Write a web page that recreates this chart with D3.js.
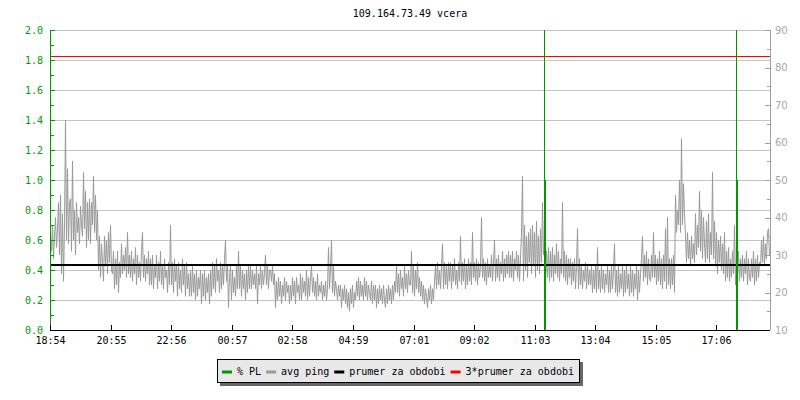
<!DOCTYPE html>
<html lang="en">
<head>
  <meta charset="utf-8">
  <script src="https://d3js.org/d3.v7.min.js"></script>
  <style>
    body { margin: 0; background: #fff; }
    text { font-family: "DejaVu Sans Mono", "Liberation Mono", monospace; font-size: 10px; }
  </style>
</head>
<body>
  <div id="chart"></div>
  <script>
    // ---- data ----
    var title = "109.164.73.49 vcera";
    var startTime = "18:54";
    var stepMinutes = 2;
    var tickLabels = ["18:54", "20:55", "22:56", "00:57", "02:58", "04:59",
                      "07:01", "09:02", "11:03", "13:04", "15:05", "17:06"];

    // avg ping (ms), one value every 2 minutes
    var ping = [
      36, 31, 38, 29, 35, 40, 32, 37, 44, 30, 46, 25, 41, 23, 38, 66, 34, 53, 33, 44,
      45, 31, 55, 34, 42, 30, 44, 36, 40, 33, 43, 38, 35, 52, 37, 47, 32, 44, 34, 45,
      33, 44, 38, 51, 36, 46, 34, 42, 26, 35, 24, 33, 28, 23, 35, 27, 34, 25, 36, 28,
      38, 26, 25, 31, 21, 29, 22, 31, 20, 28, 24, 33, 25, 30, 26, 32, 24, 36, 25, 30,
      24, 31, 23, 29, 25, 32, 22, 30, 24, 28, 23, 31, 36, 24, 30, 23, 29, 25, 31, 22,
      29, 22, 30, 21, 27, 24, 30, 21, 28, 23, 31, 22, 27, 21, 29, 24, 26, 20, 28, 22,
      38, 22, 28, 20, 29, 23, 27, 19, 28, 21, 26, 20, 29, 22, 27, 19, 28, 21, 25, 19,
      26, 19, 27, 20, 25, 18, 26, 19, 24, 21, 26, 17, 25, 19, 26, 18, 24, 20, 25, 17,
      26, 19, 28, 21, 27, 20, 29, 23, 26, 20, 28, 21, 27, 22, 29, 34, 23, 27, 16, 24,
      27, 18, 26, 20, 24, 19, 27, 21, 31, 21, 27, 19, 26, 21, 25, 18, 26, 20, 27, 21,
      27, 21, 26, 22, 25, 21, 27, 17, 25, 22, 27, 21, 26, 22, 25, 30, 22, 27, 21, 26,
      26, 23, 27, 22, 25, 16, 23, 18, 24, 19, 23, 17, 22, 19, 24, 18, 23, 20, 22, 17,
      22, 18, 24, 19, 23, 17, 24, 20, 22, 18, 25, 18, 24, 20, 23, 19, 26, 18, 24, 19,
      24, 27, 20, 24, 19, 23, 18, 25, 19, 22, 20, 23, 18, 22, 19, 23, 18, 21, 32, 21,
      26, 34, 20, 27, 19, 23, 21, 18, 22, 19, 22, 16, 21, 18, 22, 17, 21, 16, 20, 15,
      21, 17, 22, 16, 20, 18, 23, 19, 24, 18, 23, 19, 22, 18, 24, 19, 23, 18, 22, 20,
      18, 23, 17, 22, 18, 22, 16, 21, 17, 22, 18, 21, 17, 22, 18, 16, 21, 17, 22, 18,
      21, 17, 22, 18, 23, 20, 27, 20, 25, 19, 26, 21, 24, 19, 27, 21, 25, 20, 26, 22,
      22, 31, 20, 27, 19, 26, 21, 28, 20, 24, 19, 23, 18, 22, 17, 21, 19, 16, 21, 18,
      22, 17, 21, 18, 23, 27, 21, 28, 22, 26, 21, 27, 33, 21, 28, 22, 27, 21, 28, 23,
      28, 21, 27, 23, 29, 22, 26, 21, 28, 23, 35, 22, 28, 23, 29, 21, 27, 22, 29, 23,
      28, 22, 36, 24, 28, 23, 29, 22, 28, 24, 27, 40, 24, 29, 23, 28, 22, 29, 24, 27,
      24, 30, 23, 28, 34, 23, 29, 24, 30, 23, 28, 25, 31, 23, 29, 24, 30, 25, 31, 24,
      30, 24, 31, 23, 29, 26, 31, 24, 30, 23, 29, 36, 51, 23, 38, 26, 35, 24, 36, 28,
      37, 25, 38, 27, 36, 24, 39, 26, 35, 25, 37, 28, 44, 30, 33, 23, 31, 24, 32, 23,
      31, 24, 32, 23, 30, 25, 33, 24, 31, 23, 29, 25, 44, 24, 31, 23, 30, 22, 29, 24,
      29, 22, 28, 23, 29, 21, 27, 37, 21, 29, 22, 27, 21, 26, 23, 28, 21, 27, 22, 26,
      22, 27, 20, 26, 21, 27, 20, 32, 21, 26, 20, 27, 21, 26, 20, 25, 22, 27, 20, 26,
      20, 27, 21, 26, 33, 20, 26, 19, 27, 20, 25, 21, 27, 19, 26, 20, 27, 21, 25, 19,
      27, 20, 26, 19, 25, 21, 27, 18, 26, 20, 25, 29, 35, 23, 30, 24, 31, 22, 29, 24,
      23, 30, 24, 36, 24, 30, 22, 29, 23, 31, 22, 29, 21, 30, 23, 37, 21, 40, 22, 29,
      21, 29, 22, 30, 20, 46, 36, 42, 38, 50, 36, 61, 38, 49, 41, 35, 28, 36, 29, 34,
      27, 35, 29, 33, 28, 41, 30, 38, 32, 47, 31, 42, 29, 40, 33, 28, 39, 29, 41, 28,
      36, 30, 52, 29, 39, 27, 36, 25, 34, 28, 35, 26, 33, 25, 36, 23, 31, 24, 32, 23,
      29, 24, 31, 25, 38, 22, 30, 24, 31, 23, 29, 24, 30, 23, 29, 25, 31, 22, 29, 24,
      23, 29, 24, 31, 22, 29, 23, 30, 24, 28, 27, 34, 28, 35, 27, 33, 29, 36, 37, 30
    ];

    // packet loss (%), only the samples where it was not zero
    var plSample = [494, 686];
    var plValue = [1.0, 1.0];
    var plPeak = [100, 100];

    var prumer = 27.65;   // prumer za obdobi (ms)

    var legendLabels = ["% PL", "avg ping", "prumer za obdobi", "3*prumer za obdobi"];
    var legendColors = ["#009a00", "#999999", "#000000", "#ff0000"];

    // ---- layout ----
    var width = 800, height = 400;
    var plotLeft = 50, plotRight = 770, plotTop = 30, plotBottom = 330;

    var svg = d3.select('#chart')
      .append('svg')
      .attr('width', width)
      .attr('height', height);

    function minutesFromStart(label) {
      var p = label.split(':'), s = startTime.split(':');
      var m = (+p[0] * 60 + +p[1]) - (+s[0] * 60 + +s[1]);
      return m < 0 ? m + 1440 : m;
    }

    var x = d3.scaleLinear().domain([0, 1440]).range([plotLeft, plotRight]);
    var yL = d3.scaleLinear().domain([0, 2]).range([plotBottom, plotTop]);
    var yR = d3.scaleLinear().domain([10, 90]).range([plotBottom, plotTop]);

    svg.append('defs').append('clipPath').attr('id', 'plotclip')
      .append('rect')
      .attr('x', plotLeft).attr('y', plotTop)
      .attr('width', plotRight - plotLeft).attr('height', plotBottom - plotTop);

    // grid
    svg.append('g')
      .selectAll('line')
      .data(yL.ticks(10))
      .enter()
      .append('line')
      .attr('x1', plotLeft).attr('x2', plotRight)
      .attr('y1', function (d) { return Math.round(yL(d)) + 0.5; })
      .attr('y2', function (d) { return Math.round(yL(d)) + 0.5; })
      .attr('stroke', '#c4c4c4');

    var plot = svg.append('g').attr('clip-path', 'url(#plotclip)');

    // avg ping
    var line = d3.line()
      .x(function (d, i) { return x(i * stepMinutes) + 0.5; })
      .y(function (d) { return yR(d); });

    plot.append('path')
      .datum(ping)
      .attr('d', line)
      .attr('fill', 'none')
      .attr('stroke', '#999999')
      .attr('stroke-width', 1);

    // prumer and 3*prumer
    var yAvg = Math.round(yR(prumer)) + 1;
    plot.append('line')
      .attr('x1', plotLeft).attr('x2', plotRight)
      .attr('y1', yAvg).attr('y2', yAvg)
      .attr('stroke', '#000').attr('stroke-width', 2);

    var y3 = Math.floor(yR(3 * prumer)) + 0.5;
    svg.append('line')
      .attr('x1', plotLeft).attr('x2', plotRight)
      .attr('y1', y3).attr('y2', y3)
      .attr('stroke', '#ff0000').attr('stroke-width', 1)
      .attr('shape-rendering', 'crispEdges');

    // packet loss
    plSample.forEach(function (s, i) {
      var px = Math.round(x(s * stepMinutes));
      plot.append('line')
        .attr('x1', px + 0.5).attr('x2', px + 0.5)
        .attr('y1', yL(0)).attr('y2', yL(plPeak[i]))
        .attr('stroke', '#009a00').attr('stroke-width', 1);
      plot.append('line')
        .attr('x1', px + 1).attr('x2', px + 1)
        .attr('y1', yL(0)).attr('y2', yL(plValue[i]))
        .attr('stroke', '#009a00').attr('stroke-width', 2);
    });

    // left axis (% PL)
    var gl = svg.append('g');
    gl.append('line')
      .attr('x1', plotLeft + 0.5).attr('x2', plotLeft + 0.5)
      .attr('y1', plotTop).attr('y2', plotBottom)
      .attr('stroke', '#009a00');
    gl.selectAll('.minor')
      .data(yL.ticks(20))
      .enter()
      .append('line')
      .attr('x1', plotLeft).attr('x2', function (d, i) { return i % 2 ? plotLeft + 4 : plotLeft + 5; })
      .attr('y1', function (d) { return Math.round(yL(d)) + 0.5; })
      .attr('y2', function (d) { return Math.round(yL(d)) + 0.5; })
      .attr('stroke', '#009a00');
    gl.selectAll('text')
      .data(yL.ticks(10))
      .enter()
      .append('text')
      .attr('x', 43)
      .attr('y', function (d) { return yL(d); })
      .attr('dy', '0.35em')
      .attr('text-anchor', 'end')
      .attr('fill', '#009a00')
      .text(d3.format('.1f'));

    // right axis (avg ping)
    var gr = svg.append('g');
    gr.append('line')
      .attr('x1', plotRight + 0.5).attr('x2', plotRight + 0.5)
      .attr('y1', plotTop).attr('y2', plotBottom)
      .attr('stroke', '#a0a0a0');
    gr.selectAll('.tick')
      .data(yR.ticks(16))
      .enter()
      .append('line')
      .attr('x1', function (d, i) { return i % 2 ? plotRight - 3 : plotRight - 5; }).attr('x2', plotRight)
      .attr('y1', function (d) { return Math.round(yR(d)) + 0.5; })
      .attr('y2', function (d) { return Math.round(yR(d)) + 0.5; })
      .attr('stroke', '#a0a0a0');
    gr.selectAll('text')
      .data(yR.ticks(8))
      .enter()
      .append('text')
      .attr('x', 775)
      .attr('y', function (d) { return yR(d); })
      .attr('dy', '0.35em')
      .attr('fill', '#a8a8a8')
      .style('font-family', '"DejaVu Sans", sans-serif')
      .text(function (d) { return d; });

    // time axis
    var gx = svg.append('g');
    gx.append('line')
      .attr('x1', plotLeft).attr('x2', plotRight)
      .attr('y1', plotBottom + 0.5).attr('y2', plotBottom + 0.5)
      .attr('stroke', '#000');
    var tickPos = tickLabels.map(function (t) { return Math.round(x(minutesFromStart(t))) + 0.5; });
    gx.selectAll('line.t')
      .data(tickPos)
      .enter()
      .append('line')
      .attr('x1', function (d) { return d; }).attr('x2', function (d) { return d; })
      .attr('y1', plotBottom - 5).attr('y2', plotBottom)
      .attr('stroke', '#000');
    gx.selectAll('text')
      .data(tickLabels)
      .enter()
      .append('text')
      .attr('x', function (d, i) { return tickPos[i]; })
      .attr('y', 344)
      .attr('text-anchor', 'middle')
      .attr('fill', '#000')
      .text(function (d) { return d; });

    // title
    svg.append('text')
      .attr('x', (plotLeft + plotRight) / 2)
      .attr('y', 17)
      .attr('text-anchor', 'middle')
      .text(title);

    // legend
    var lg = svg.append('g');
    lg.append('rect')
      .attr('x', 220).attr('y', 362).attr('width', 363).attr('height', 24)
      .attr('fill', '#666');
    lg.append('rect')
      .attr('x', 217.5).attr('y', 359.5).attr('width', 362).attr('height', 23)
      .attr('fill', '#e8e8e8').attr('stroke', '#000');
    var lx = 222;
    legendLabels.forEach(function (label, i) {
      lg.append('line')
        .attr('x1', lx).attr('x2', lx + 10)
        .attr('y1', 372).attr('y2', 372)
        .attr('stroke', legendColors[i]).attr('stroke-width', 3);
      var t = lg.append('text')
        .attr('x', lx + 15).attr('y', 375)
        .text(label);
      lx += 15 + t.node().getComputedTextLength() + 5;
    });
  </script>
</body>
</html>
